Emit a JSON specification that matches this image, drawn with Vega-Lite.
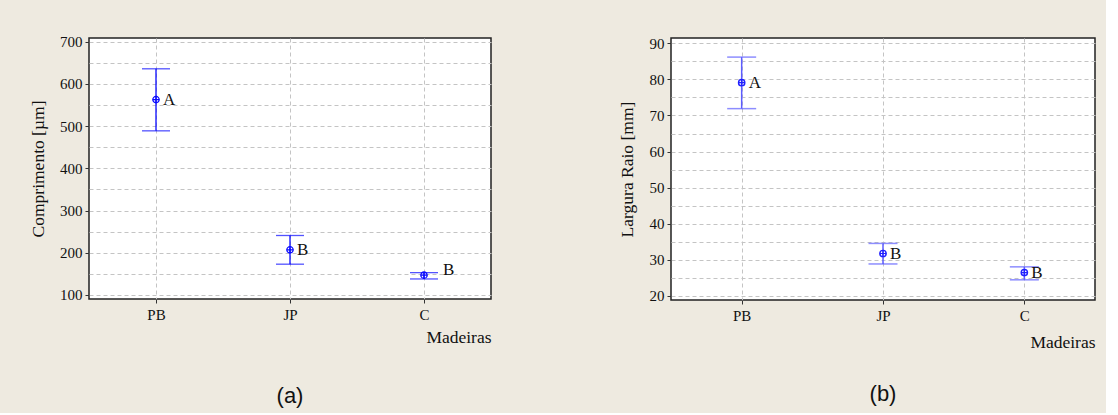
{
  "$schema": "https://vega.github.io/schema/vega-lite/v6.json",
  "background": "#EEEAE0",
  "padding": {"left": 28, "top": 34, "right": 10, "bottom": 5},
  "spacing": 125,
  "config": {
    "view": {"fill": "white", "stroke": "#222222", "strokeWidth": 1.5},
    "font": "Liberation Serif",
    "axis": {
      "labelFont": "Liberation Serif",
      "labelFontSize": 15,
      "labelColor": "#111111",
      "titleFont": "Liberation Serif",
      "titleFontSize": 17.5,
      "titleFontWeight": "normal",
      "titleColor": "#111111",
      "domain": false,
      "tickColor": "#333333",
      "tickSize": 4,
      "tickWidth": 1,
      "labelPadding": 3,
      "grid": true,
      "gridColor": "#c4c4c4",
      "gridDash": [4, 3],
      "gridWidth": 1
    },
    "title": {"font": "Liberation Sans", "fontSize": 22, "fontWeight": "normal", "color": "#111111"}
  },
  "datasets": {
    "comp": [
      {"Madeira": "PB", "media": 563, "inferior": 489, "superior": 636, "grupo": "A"},
      {"Madeira": "JP", "media": 207, "inferior": 173, "superior": 241, "grupo": "B"},
      {"Madeira": "C", "media": 147, "inferior": 138, "superior": 153, "grupo": "B"}
    ],
    "larg": [
      {"Madeira": "PB", "media": 79.1, "inferior": 71.9, "superior": 86.2, "grupo": "A"},
      {"Madeira": "JP", "media": 31.7, "inferior": 28.8, "superior": 34.5, "grupo": "B"},
      {"Madeira": "C", "media": 26.4, "inferior": 24.4, "superior": 28.0, "grupo": "B"}
    ]
  },
  "hconcat": [
    {
      "width": 402,
      "height": 261,
      "data": {"name": "comp"},
      "title": {"text": "(a)", "orient": "bottom", "anchor": "middle", "offset": 40},
      "encoding": {
        "x": {
          "field": "Madeira", "type": "nominal", "sort": ["PB", "JP", "C"],
          "scale": {"type": "point", "padding": 0.5},
          "axis": {"title": "Madeiras", "titleAnchor": "end", "titlePadding": 6, "labelAngle": 0, "labelPadding": 4}
        }
      },
      "layer": [
        {
          "mark": {"type": "rule", "color": "#0a0aff", "strokeWidth": 1.3},
          "encoding": {
            "y": {
              "field": "inferior", "type": "quantitative",
              "scale": {"domain": [90.5, 709], "nice": false, "zero": false},
              "axis": {
                "title": "Comprimento [µm]", "titlePadding": 12, "labelOverlap": false,
                "values": [100, 150, 200, 250, 300, 350, 400, 450, 500, 550, 600, 650, 700],
                "labelExpr": "datum.value % 100 == 0 ? datum.label : ''",
                "tickOpacity": {"condition": {"test": "datum.value % 100 != 0", "value": 0}, "value": 1}
              }
            },
            "y2": {"field": "superior"}
          }
        },
        {
          "mark": {"type": "tick", "color": "#0a0aff", "size": 28, "thickness": 1.3},
          "encoding": {"y": {"field": "superior", "type": "quantitative",
              "axis": {
                "title": "Comprimento [µm]", "titlePadding": 12, "labelOverlap": false,
                "values": [100, 150, 200, 250, 300, 350, 400, 450, 500, 550, 600, 650, 700],
                "labelExpr": "datum.value % 100 == 0 ? datum.label : ''",
                "tickOpacity": {"condition": {"test": "datum.value % 100 != 0", "value": 0}, "value": 1}
              }}}
        },
        {
          "mark": {"type": "tick", "color": "#0a0aff", "size": 28, "thickness": 1.3},
          "encoding": {"y": {"field": "inferior", "type": "quantitative",
              "axis": {
                "title": "Comprimento [µm]", "titlePadding": 12, "labelOverlap": false,
                "values": [100, 150, 200, 250, 300, 350, 400, 450, 500, 550, 600, 650, 700],
                "labelExpr": "datum.value % 100 == 0 ? datum.label : ''",
                "tickOpacity": {"condition": {"test": "datum.value % 100 != 0", "value": 0}, "value": 1}
              }}}
        },
        {
          "mark": {"type": "point", "shape": "circle", "filled": false, "color": "#0a0aff", "size": 40, "strokeWidth": 1.3, "opacity": 1},
          "encoding": {"y": {"field": "media", "type": "quantitative",
              "axis": {
                "title": "Comprimento [µm]", "titlePadding": 12, "labelOverlap": false,
                "values": [100, 150, 200, 250, 300, 350, 400, 450, 500, 550, 600, 650, 700],
                "labelExpr": "datum.value % 100 == 0 ? datum.label : ''",
                "tickOpacity": {"condition": {"test": "datum.value % 100 != 0", "value": 0}, "value": 1}
              }}}
        },
        {
          "mark": {"type": "point", "shape": "M-1,0H1M0,-1V1", "filled": false, "color": "#0a0aff", "size": 40, "strokeWidth": 1.2, "opacity": 1},
          "encoding": {"y": {"field": "media", "type": "quantitative",
              "axis": {
                "title": "Comprimento [µm]", "titlePadding": 12, "labelOverlap": false,
                "values": [100, 150, 200, 250, 300, 350, 400, 450, 500, 550, 600, 650, 700],
                "labelExpr": "datum.value % 100 == 0 ? datum.label : ''",
                "tickOpacity": {"condition": {"test": "datum.value % 100 != 0", "value": 0}, "value": 1}
              }}}
        },
        {
          "transform": [{"filter": "datum.Madeira != 'C'"}],
          "mark": {"type": "text", "align": "left", "baseline": "middle", "dx": 7, "fontSize": 17, "font": "Liberation Serif", "color": "#111111"},
          "encoding": {"y": {"field": "media", "type": "quantitative",
              "axis": {
                "title": "Comprimento [µm]", "titlePadding": 12, "labelOverlap": false,
                "values": [100, 150, 200, 250, 300, 350, 400, 450, 500, 550, 600, 650, 700],
                "labelExpr": "datum.value % 100 == 0 ? datum.label : ''",
                "tickOpacity": {"condition": {"test": "datum.value % 100 != 0", "value": 0}, "value": 1}
              }}, "text": {"field": "grupo"}}
        },
        {
          "transform": [{"filter": "datum.Madeira == 'C'"}],
          "mark": {"type": "text", "align": "left", "baseline": "middle", "dx": 19, "dy": -5, "fontSize": 17, "font": "Liberation Serif", "color": "#111111"},
          "encoding": {"y": {"field": "media", "type": "quantitative",
              "axis": {
                "title": "Comprimento [µm]", "titlePadding": 12, "labelOverlap": false,
                "values": [100, 150, 200, 250, 300, 350, 400, 450, 500, 550, 600, 650, 700],
                "labelExpr": "datum.value % 100 == 0 ? datum.label : ''",
                "tickOpacity": {"condition": {"test": "datum.value % 100 != 0", "value": 0}, "value": 1}
              }}, "text": {"field": "grupo"}}
        }
      ]
    },
    {
      "width": 424,
      "height": 262,
      "data": {"name": "larg"},
      "title": {"text": "(b)", "orient": "bottom", "anchor": "middle", "offset": 33},
      "encoding": {
        "x": {
          "field": "Madeira", "type": "nominal", "sort": ["PB", "JP", "C"],
          "scale": {"type": "point", "padding": 0.5},
          "axis": {"title": "Madeiras", "titleAnchor": "end", "titlePadding": 10, "labelAngle": 0, "labelPadding": 4}
        }
      },
      "layer": [
        {
          "mark": {"type": "rule", "color": "#5c5cff", "strokeWidth": 1.5},
          "encoding": {
            "y": {
              "field": "inferior", "type": "quantitative",
              "scale": {"domain": [18.8, 91.5], "nice": false, "zero": false},
              "axis": {
                "title": "Largura Raio [mm]", "titlePadding": 13, "labelOverlap": false,
                "values": [20, 25, 30, 35, 40, 45, 50, 55, 60, 65, 70, 75, 80, 85, 90],
                "labelExpr": "datum.value % 10 == 0 ? datum.label : ''",
                "tickOpacity": {"condition": {"test": "datum.value % 10 != 0", "value": 0}, "value": 1}
              }
            },
            "y2": {"field": "superior"}
          }
        },
        {
          "mark": {"type": "tick", "color": "#5c5cff", "size": 29, "thickness": 1.5},
          "encoding": {"y": {"field": "superior", "type": "quantitative",
              "axis": {
                "title": "Largura Raio [mm]", "titlePadding": 13, "labelOverlap": false,
                "values": [20, 25, 30, 35, 40, 45, 50, 55, 60, 65, 70, 75, 80, 85, 90],
                "labelExpr": "datum.value % 10 == 0 ? datum.label : ''",
                "tickOpacity": {"condition": {"test": "datum.value % 10 != 0", "value": 0}, "value": 1}
              }}}
        },
        {
          "mark": {"type": "tick", "color": "#5c5cff", "size": 29, "thickness": 1.5},
          "encoding": {"y": {"field": "inferior", "type": "quantitative",
              "axis": {
                "title": "Largura Raio [mm]", "titlePadding": 13, "labelOverlap": false,
                "values": [20, 25, 30, 35, 40, 45, 50, 55, 60, 65, 70, 75, 80, 85, 90],
                "labelExpr": "datum.value % 10 == 0 ? datum.label : ''",
                "tickOpacity": {"condition": {"test": "datum.value % 10 != 0", "value": 0}, "value": 1}
              }}}
        },
        {
          "mark": {"type": "point", "shape": "circle", "filled": false, "color": "#2020ff", "size": 40, "strokeWidth": 1.4, "opacity": 1},
          "encoding": {"y": {"field": "media", "type": "quantitative",
              "axis": {
                "title": "Largura Raio [mm]", "titlePadding": 13, "labelOverlap": false,
                "values": [20, 25, 30, 35, 40, 45, 50, 55, 60, 65, 70, 75, 80, 85, 90],
                "labelExpr": "datum.value % 10 == 0 ? datum.label : ''",
                "tickOpacity": {"condition": {"test": "datum.value % 10 != 0", "value": 0}, "value": 1}
              }}}
        },
        {
          "mark": {"type": "point", "shape": "M-1,0H1M0,-1V1", "filled": false, "color": "#2020ff", "size": 40, "strokeWidth": 1.2, "opacity": 1},
          "encoding": {"y": {"field": "media", "type": "quantitative",
              "axis": {
                "title": "Largura Raio [mm]", "titlePadding": 13, "labelOverlap": false,
                "values": [20, 25, 30, 35, 40, 45, 50, 55, 60, 65, 70, 75, 80, 85, 90],
                "labelExpr": "datum.value % 10 == 0 ? datum.label : ''",
                "tickOpacity": {"condition": {"test": "datum.value % 10 != 0", "value": 0}, "value": 1}
              }}}
        },
        {
          "mark": {"type": "text", "align": "left", "baseline": "middle", "dx": 7, "fontSize": 17, "font": "Liberation Serif", "color": "#111111"},
          "encoding": {"y": {"field": "media", "type": "quantitative",
              "axis": {
                "title": "Largura Raio [mm]", "titlePadding": 13, "labelOverlap": false,
                "values": [20, 25, 30, 35, 40, 45, 50, 55, 60, 65, 70, 75, 80, 85, 90],
                "labelExpr": "datum.value % 10 == 0 ? datum.label : ''",
                "tickOpacity": {"condition": {"test": "datum.value % 10 != 0", "value": 0}, "value": 1}
              }}, "text": {"field": "grupo"}}
        }
      ]
    }
  ]
}
